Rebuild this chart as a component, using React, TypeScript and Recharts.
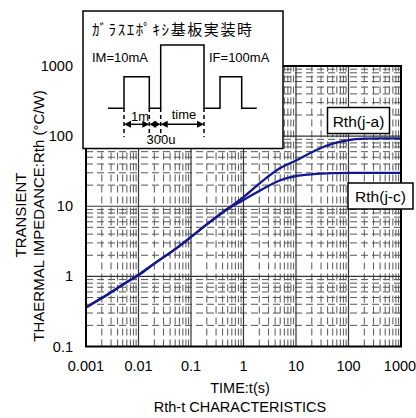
import React from "react";
import { LineChart, Line, XAxis, YAxis, ReferenceLine } from "recharts";

// Time axis (s) and transient thermal impedance (°C/W)
const TIME_S = [0.001, 0.002, 0.005, 0.01, 0.02, 0.05, 0.1, 0.2, 0.5, 1, 2, 5, 10, 20, 50, 100, 200, 500, 1000];
const RTH_JA = [0.36, 0.49, 0.76, 1.05, 1.52, 2.45, 3.65, 5.5, 9.2, 13.5, 21, 35, 45, 59, 78, 88, 92, 93, 93];
const RTH_JC = [0.36, 0.49, 0.76, 1.05, 1.52, 2.45, 3.65, 5.5, 9.2, 12.3, 16.5, 23.5, 27, 28.5, 29.6, 30, 30, 30, 30];

// Axis ticks
const X_TICKS = [0.001, 0.01, 0.1, 1, 10, 100, 1000];
const Y_TICKS = [0.1, 1, 10, 100, 1000];

const rows = TIME_S.map((t, i) => ({ t, ja: RTH_JA[i], jc: RTH_JC[i] }));

const minorsOf = (majors: number[]) =>
  majors.slice(0, -1).flatMap((m) => [2, 3, 4, 5, 6, 7, 8, 9].map((k) => m * k));

const X_MINOR = minorsOf(X_TICKS);
const Y_MINOR = minorsOf(Y_TICKS);

const LATIN = "'Liberation Sans', Arial, sans-serif";
const CJK = "'Noto Sans CJK JP', sans-serif";
const CURVE = "#12188e";

const YTick = (props: any) => (
  <text x={73} y={props.y} textAnchor="end" dominantBaseline="central" fontSize={14.5} fontFamily={LATIN} fill="#000">
    {String(props.payload.value)}
  </text>
);

const XTick = (props: any) => (
  <text x={props.x} y={366} textAnchor="middle" dominantBaseline="central" fontSize={14.5} fontFamily={LATIN} fill="#000">
    {String(props.payload.value)}
  </text>
);

// double headed arrow
const Arrow = ({ x1, x2, y }: { x1: number; x2: number; y: number }) => (
  <g>
    <line x1={x1 + 5} x2={x2 - 5} y1={y} y2={y} stroke="#000" strokeWidth={1.5} />
    <polygon points={`${x1},${y} ${x1 + 7},${y - 3.5} ${x1 + 7},${y + 3.5}`} fill="#000" />
    <polygon points={`${x2},${y} ${x2 - 7},${y - 3.5} ${x2 - 7},${y + 3.5}`} fill="#000" />
  </g>
);

const Overlay = () => (
  <svg width={416} height={418} style={{ position: "absolute", left: 0, top: 0, pointerEvents: "none" }}>
    {/* plot frame */}
    <rect x={86} y={66} width={315} height={280.5} fill="none" stroke="#000" strokeWidth={2} />

    {/* curve labels */}
    <rect x={327.5} y={107.5} width={62} height={26} fill="#fff" stroke="#000" strokeWidth={1.5} />
    <text x={358.5} y={121} textAnchor="middle" dominantBaseline="central" fontSize={15.5} fontFamily={LATIN}>
      Rth(j-a)
    </text>
    <rect x={348} y={183} width={65} height={26} fill="#fff" stroke="#000" strokeWidth={1.5} />
    <text x={380.5} y={196.5} textAnchor="middle" dominantBaseline="central" fontSize={15.5} fontFamily={LATIN}>
      Rth(j-c)
    </text>

    {/* measurement condition inset */}
    <rect x={83} y={11} width={200} height={137.5} fill="#fff" stroke="#000" strokeWidth={1.5} />
    <text x={92} y={28} dominantBaseline="central" fontSize={15} fontFamily={CJK} textLength={160} lengthAdjust="spacing">
      ｶﾞﾗｽｴﾎﾟｷｼ基板実装時
    </text>
    <text x={92} y={57} dominantBaseline="central" fontSize={13} fontFamily={LATIN}>
      IM=10mA
    </text>
    <text x={209} y={57} dominantBaseline="central" fontSize={13} fontFamily={LATIN}>
      IF=100mA
    </text>
    <polyline
      points="108,108.3 124,108.3 124,76.7 149.3,76.7 149.3,108.3 160.7,108.3 160.7,45 204,45 204,108.3 220,108.3 220,76.7 241.7,76.7 241.7,108.3 256.7,108.3"
      fill="none"
      stroke="#000"
      strokeWidth={1.5}
    />
    {[124, 149.3, 160.7, 204].map((x) => (
      <line key={x} x1={x} x2={x} y1={108} y2={137} stroke="#000" strokeWidth={1.5} strokeDasharray="4 3" />
    ))}
    <Arrow x1={124} x2={149.3} y={124.3} />
    <Arrow x1={149.3} x2={160.7} y={124.3} />
    <Arrow x1={160.7} x2={204} y={124.3} />
    <text x={140} y={116} textAnchor="middle" dominantBaseline="central" fontSize={13} fontFamily={LATIN}>
      1m
    </text>
    <text x={184} y={114} textAnchor="middle" dominantBaseline="central" fontSize={13} fontFamily={LATIN}>
      time
    </text>
    <text x={161} y={139} textAnchor="middle" dominantBaseline="central" fontSize={13} fontFamily={LATIN}>
      300u
    </text>

    {/* axis titles */}
    <text x={20} y={215} transform="rotate(-90 20 215)" textAnchor="middle" dominantBaseline="central" fontSize={15} fontFamily={LATIN}>
      TRANSIENT
    </text>
    <text x={38.5} y={216} transform="rotate(-90 38.5 216)" textAnchor="middle" dominantBaseline="central" fontSize={15} fontFamily={LATIN}>
      THAERMAL IMPEDANCE:Rth (°C/W)
    </text>
    <text x={240} y={388} textAnchor="middle" dominantBaseline="central" fontSize={14.5} fontFamily={LATIN}>
      TIME:t(s)
    </text>
    <text x={240} y={407} textAnchor="middle" dominantBaseline="central" fontSize={14.5} fontFamily={LATIN}>
      Rth-t CHARACTERISTICS
    </text>
  </svg>
);

export default function App() {
  return (
    <div style={{ position: "absolute", left: 0, top: 0, width: 416, height: 418, background: "#fff" }}>
      <LineChart width={416} height={418} data={rows} margin={{ top: 66, right: 15, bottom: 41.5, left: 0 }}>
        <XAxis
          dataKey="t"
          type="number"
          scale="log"
          domain={[0.001, 1000]}
          ticks={X_TICKS}
          tick={<XTick />}
          axisLine={false}
          tickLine={false}
          height={30}
          allowDataOverflow
        />
        <YAxis
          type="number"
          scale="log"
          domain={[0.1, 1000]}
          ticks={Y_TICKS}
          tick={<YTick />}
          axisLine={false}
          tickLine={false}
          width={86}
          allowDataOverflow
        />
        {X_MINOR.map((v) => (
          <ReferenceLine key={`xm${v}`} x={v} stroke="#555" strokeWidth={1} strokeDasharray="7 4" />
        ))}
        {Y_MINOR.map((v) => (
          <ReferenceLine key={`ym${v}`} y={v} stroke="#555" strokeWidth={1} strokeDasharray="7 4" />
        ))}
        {X_TICKS.map((v) => (
          <ReferenceLine key={`xM${v}`} x={v} stroke="#333" strokeWidth={1.2} />
        ))}
        {Y_TICKS.map((v) => (
          <ReferenceLine key={`yM${v}`} y={v} stroke="#333" strokeWidth={1.2} />
        ))}
        <Line dataKey="ja" type="monotone" stroke={CURVE} strokeWidth={2.3} dot={false} isAnimationActive={false} />
        <Line dataKey="jc" type="monotone" stroke={CURVE} strokeWidth={2.3} dot={false} isAnimationActive={false} />
      </LineChart>
      <Overlay />
    </div>
  );
}
